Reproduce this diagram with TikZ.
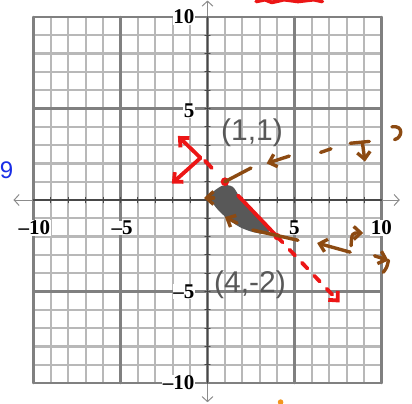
\documentclass[tikz,border=0pt]{standalone}
\usepackage{fontspec}
\setmainfont{Liberation Serif}
\newfontfamily\handfont{Liberation Sans}
\usetikzlibrary{arrows.meta}
\definecolor{penred}{RGB}{236,22,22}
\definecolor{penbrown}{RGB}{140,74,18}
\definecolor{penblue}{RGB}{25,45,230}
\definecolor{penorange}{RGB}{242,150,30}
\definecolor{pengray}{RGB}{88,88,88}
\begin{document}
\begin{tikzpicture}[x=17.4pt,y=18.3pt,line cap=round,line join=round,
  gridline/.style={draw=black!28,line width=2.3pt},
  fiveline/.style={draw=black!50,line width=2.4pt},
  axisline/.style={draw=black!72,line width=1.5pt},
  axisarrow/.style={draw=black!45,line width=1pt,-{Straight Barb[length=5pt,width=11pt]}},
  ticklab/.style={font=\fontsize{21}{21}\selectfont\bfseries,fill=white,inner sep=0.5pt},
  handlab/.style={font=\handfont\fontsize{30}{30}\selectfont,text=pengray},
  redpen/.style={draw=penred,line width=3.8pt},
  brownpen/.style={draw=penbrown,line width=3.4pt},
  pentip/.style={-{Straight Barb[length=7pt,width=13pt]}}]
\useasboundingbox (-11.925,-11.093) rectangle (11.753,10.929);
\draw[gridline] (-10,-10) grid[step=1] (10,10);
\draw[fiveline] (-10,-10) grid[step=5] (10,10);
\draw[axisarrow] (-10,0) -- (-11.15,0);
\draw[axisarrow] (10,0) -- (11.05,0);
\draw[axisarrow] (0,10) -- (0,10.9);
\draw[axisarrow] (0,-10) -- (0,-11.05);
\draw[axisline] (-10,0) -- (10,0) (0,-10) -- (0,10);
\foreach \t in {-9,...,9}{
  \draw[axisline,line width=1pt] (\t,-0.15) -- (\t,0.15) (-0.15,\t) -- (0.15,\t);
}
\node[ticklab] (xa) at (-9.95,-1.53) {\textendash10};
\node[ticklab] (xb) at (-4.9,-1.53) {\textendash5};
\node[ticklab] (xc) at (5,-1.53) {5};
\node[ticklab] (xd) at (10,-1.53) {10};
\node[ticklab,anchor=east] (ya) at (-0.72,10) {10};
\node[ticklab,anchor=east] (yb) at (-0.72,4.9) {5};
\node[ticklab,anchor=east] (yc) at (-0.72,-5) {\textendash5};
\node[ticklab,anchor=east] (yd) at (-0.72,-10) {\textendash10};
\coordinate (P) at (1,1);
\coordinate (Q) at (4,-2);
\coordinate (R) at (-0.4,2.3);
\fill[pengray] plot[smooth cycle,tension=0.5] coordinates {(0.85,0.78) (0.2,0.3) (0.4,-0.3)
  (1.0,-0.9) (1.8,-1.45) (2.6,-1.75) (3.4,-1.85) (3.5,-1.45) (2.6,-0.6) (1.9,0.1) (1.45,0.72)};
\draw[redpen] (-0.15,2.15) -- (0.25,1.75);
\fill[penred] (P) circle (0.24);
\draw[redpen] (1.75,0.25) -- (Q);
\fill[penred] (Q) circle (0.2);
\draw[redpen,dash pattern=on 8pt off 10pt,pentip] (Q) -- (7.6,-5.6);
\draw[redpen,pentip] (R) -- (-1.7,3.5);
\draw[redpen,pentip] (R) -- (-2.05,0.9);
\draw[brownpen] (P) -- (2.5,1.75);
\draw[brownpen,pentip] (4.7,2.4) -- (3.4,2.0);
\draw[brownpen] (6.5,2.6) -- (7.1,2.8);
\draw[brownpen] (8.2,3.1) -- (9.3,3.2);
\draw[brownpen,pentip] (8.9,3.15) -- (9.05,2.1);
\draw[brownpen] (10.6,4.0) .. controls (11.3,4.1) and (11.2,3.4) .. (10.75,3.3);
\draw[brownpen] (2.6,-1.64) -- (5.2,-2.2);
\draw[brownpen,pentip] (8.2,-2.85) -- (6.3,-2.35);
\draw[brownpen,pentip] (8.25,-2.5) .. controls (8.3,-1.8) .. (8.95,-1.8);
\draw[brownpen,pentip] (9.6,-3.05) -- (10.4,-3.3);
\draw[brownpen] (10.4,-3.3) .. controls (10.3,-3.7) .. (10.1,-3.95);
\draw[brownpen,pentip] (0.35,0.11) -- (-0.2,0.11);
\draw[brownpen,pentip] (1.7,-1.26) -- (1.0,-0.93);
\node[handlab] (lp) at (2.56,3.66) {(1,1)};
\node[handlab] (lq) at (2.44,-4.64) {(4,-2)};
\node[font=\handfont\fontsize{24}{24}\selectfont,text=penblue] (nine) at (-11.55,1.64) {9};
\draw[redpen] (2.8,10.85) -- (3.3,10.95) -- (3.7,10.8) -- (4.4,10.95) -- (5.2,10.85) -- (6.1,10.95) -- (6.6,10.85);
\fill[penorange] (4.2,-11.05) circle (0.16);
\end{tikzpicture}
\end{document}
